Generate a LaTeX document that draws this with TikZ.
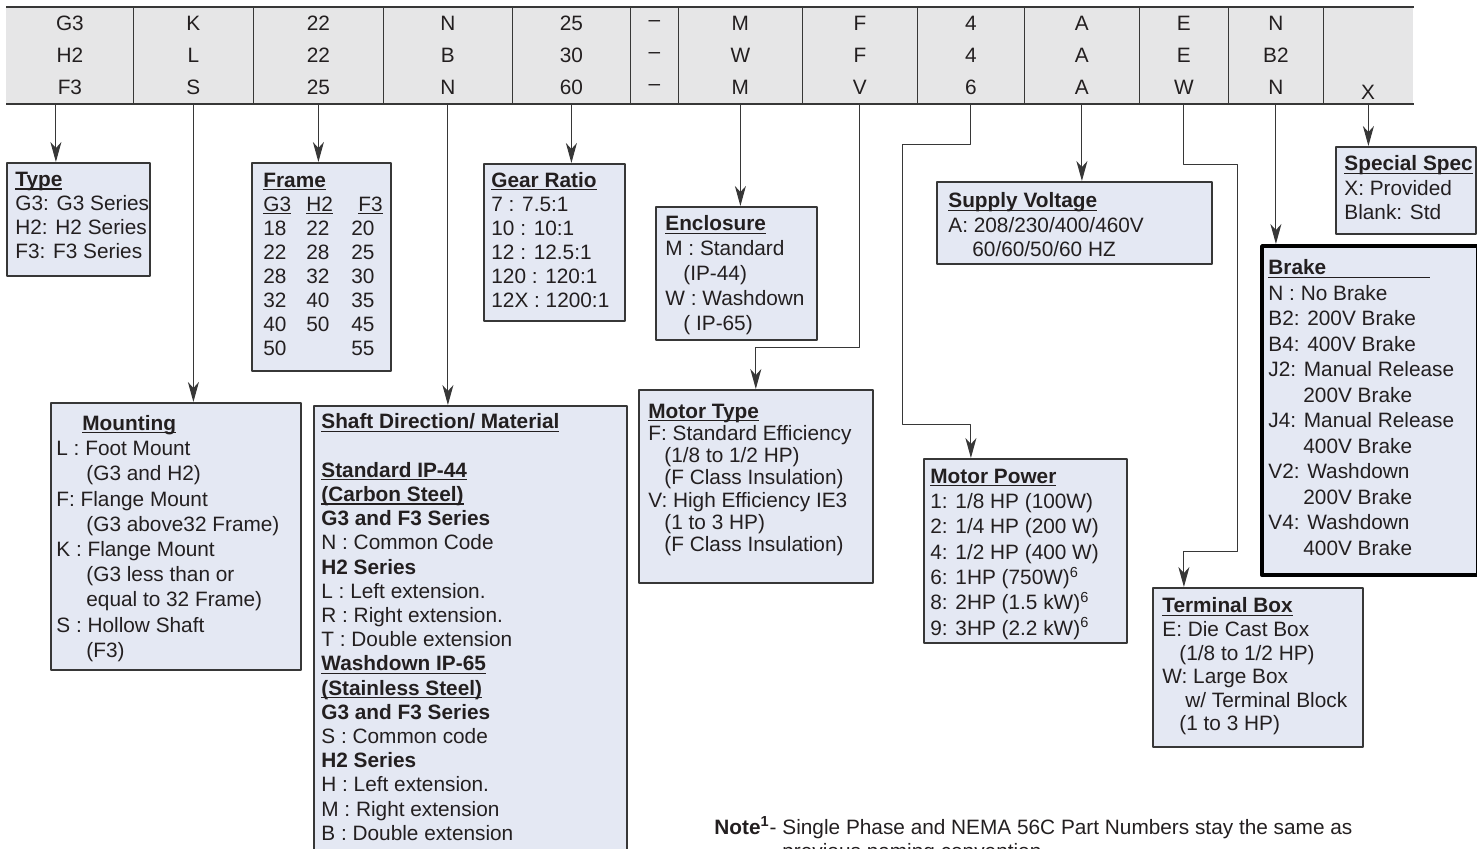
\documentclass[tikz,border=0pt]{standalone}
\usepackage{fontspec}
\setmainfont{Liberation Sans}
\usetikzlibrary{arrows.meta}
\definecolor{barfill}{RGB}{230,230,231}
\definecolor{boxfill}{RGB}{228,232,243}
\definecolor{edge}{RGB}{55,55,55}
\definecolor{ink}{RGB}{35,31,32}
\newcommand\uln[1]{\leavevmode\setbox0=\hbox{#1}\rlap{\rule[-1.5pt]{\wd0}{0.7pt}}\box0}
\begin{document}
\begin{tikzpicture}[x=0.5pt, y=-0.5pt, line join=round, >={Stealth[length=10pt,width=5.5pt,inset=3pt]},
  font=\fontsize{10.4}{16}\selectfont, text=ink,
  cell/.style={fill=barfill, inner sep=0pt, minimum height=48pt, anchor=north west, align=center},
  box/.style 2 args={draw=edge, fill=boxfill, line width=0.8pt, inner sep=0pt, anchor=north west, minimum width=#1*0.5pt, minimum height=#2*0.5pt},
  txt/.style={anchor=north west, inner sep=0pt, align=left, font=\fontsize{10.4}{#1}\selectfont},
  conn/.style={->, draw=edge, line width=0.55pt}]
\useasboundingbox (0,0) rectangle (1477,848);
% part number bar
\foreach \xa/\xb/\lab [count=\i] in {6/133/{G3\\H2\\F3}, 133/253/{K\\L\\S}, 253/383/{22\\22\\25}, 383/512/{N\\B\\N}, 512/630/{25\\30\\60}, 630/678/{--\\--\\--}, 678/802/{M\\W\\M}, 802/917/{F\\F\\V}, 917/1024/{4\\4\\6}, 1024/1139/{A\\A\\A}, 1139/1228/{E\\E\\W}, 1228/1323/{N\\B2\\N}, 1323/1413/{}}
  \node[cell, minimum width=(\xb-\xa)*0.5pt] (c\i) at (\xa,7) {\lab};
\foreach \i in {1,...,12} \draw[edge, line width=0.6pt] (c\i.north east) -- (c\i.south east);
\draw[edge, line width=0.8pt] (c1.north west) -- (c13.north east) (c1.south west) -- (c13.south east);
\node (xspec) at (1368,92) {X};
% boxes
\node[box={143}{113}] (type) at (6,162) {};
\node[box={139}{208}] (frame) at (251,162) {};
\node[box={141}{157}] (gear) at (483,163) {};
\node[box={250}{267}] (mount) at (50,402) {};
\node[box={313}{495}] (shaft) at (313,405) {};
\node[box={161}{133}] (encl) at (655,206) {};
\node[box={234}{193}] (mtype) at (638,389) {};
\node[box={275}{82}] (volt) at (936,181) {};
\node[box={203}{184}] (mpower) at (923,458) {};
\node[box={210}{159}] (term) at (1152,587) {};
\node[box={216}{329}, draw=black, line width=2.2pt] (brake) at (1260,244) {};
\node[box={140}{87}] (spec) at (1335,146) {};
% texts
\node[txt=12pt] (typetxt) at (15,172) {\uln{\textbf{Type}}\\G3: G3 Series\\H2: H2 Series\\F3: F3 Series};
\node[txt=12pt] (frametxt) at (263,170) {\begin{tabular}{@{}p{21.5pt}@{}p{22.5pt}@{}l@{}}
  \multicolumn{3}{@{}l}{\uln{\textbf{Frame}}}\\
  \uln{G3} & \uln{H2} & \hspace*{3.5pt}\uln{F3}\\
  18 & 22 & 20\\ 22 & 28 & 25\\ 28 & 32 & 30\\ 32 & 40 & 35\\ 40 & 50 & 45\\ 50 & & 55
  \end{tabular}};
\node[txt=12pt] (geartxt) at (491,172) {\uln{\textbf{Gear Ratio}}\\7 : 7.5:1\\10 : 10:1\\12 : 12.5:1\\120 : 120:1\\12X : 1200:1};
\node[txt=12.6pt] (mounttxt) at (56,415) {\hspace*{13pt}\uln{\textbf{Mounting}}\\L : Foot Mount\\\hspace*{15pt}(G3 and H2)\\F: Flange Mount\\\hspace*{15pt}(G3 above32 Frame)\\K : Flange Mount\\\hspace*{15pt}(G3 less than or\\\hspace*{15pt}equal to 32 Frame)\\S : Hollow Shaft\\\hspace*{15pt}(F3)};
\node[txt=12.1pt] (shafttxt) at (321,413.5) {\uln{\textbf{Shaft Direction/ Material}}\\\mbox{}\\
  \uln{\textbf{Standard IP-44}}\\\uln{\textbf{(Carbon Steel)}}\\\textbf{G3 and F3 Series}\\N : Common Code\\\textbf{H2 Series}\\
  L : Left extension.\\R : Right extension.\\T : Double extension\\
  \uln{\textbf{Washdown IP-65}}\\\uln{\textbf{(Stainless Steel)}}\\\textbf{G3 and F3 Series}\\S : Common code\\\textbf{H2 Series}\\
  H : Left extension.\\M : Right extension\\B : Double extension};
\node[txt=12.5pt] (encltxt) at (665,215.5) {\uln{\textbf{Enclosure}}\\M : Standard\\\hspace*{9pt}(IP-44)\\W : Washdown\\\hspace*{9pt}( IP-65)};
\node[txt=11.1pt] (mtypetxt) at (648,403.5) {\uln{\textbf{Motor Type}}\\F: Standard Efficiency\\\hspace*{8pt}(1/8 to 1/2 HP)\\\hspace*{8pt}(F Class Insulation)\\V: High Efficiency IE3\\\hspace*{8pt}(1 to 3 HP)\\\hspace*{8pt}(F Class Insulation)};
\node[txt=12.25pt] (volttxt) at (948,192.5) {\uln{\textbf{Supply Voltage}}\\A: 208/230/400/460V\\\hspace*{12pt}60/60/50/60 HZ};
\node[txt=12.65pt] (mpowertxt) at (930,468.5) {\uln{\textbf{Motor Power}}\\1: 1/8 HP (100W)\\2: 1/4 HP (200 W)\\4: 1/2 HP (400 W)\\6: 1HP (750W)\textsuperscript{6}\\8: 2HP (1.5 kW)\textsuperscript{6}\\9: 3HP (2.2 kW)\textsuperscript{6}};
\node[txt=11.8pt] (termtxt) at (1162,597.5) {\uln{\textbf{Terminal Box}}\\E: Die Cast Box\\\hspace*{8.5pt}(1/8 to 1/2 HP)\\W: Large Box\\\hspace*{11.5pt}w/ Terminal Block\\\hspace*{8.5pt}(1 to 3 HP)};
\node[txt=12.75pt] (braketxt) at (1268,259.5) {\uln{\textbf{Brake}\hspace*{52pt}}\\N : No Brake\\B2: 200V Brake\\B4: 400V Brake\\J2: Manual Release\\\hspace*{17.5pt}200V Brake\\J4: Manual Release\\\hspace*{17.5pt}400V Brake\\V2: Washdown\\\hspace*{17.5pt}200V Brake\\V4: Washdown\\\hspace*{17.5pt}400V Brake};
\node[txt=12.15pt] (spectxt) at (1344,155.5) {\uln{\textbf{Special Spec}}\\X: Provided\\Blank: Std};
\node[txt=12pt] (note) at (714,816.5) {\textbf{Note\textsuperscript{1}}- Single Phase and NEMA 56C Part Numbers stay the same as\\\hspace*{34pt}previous naming convention.};
% connectors
\coordinate (t1) at ([xshift=-7pt]c1.south);
\draw[conn] (t1) -- (t1 |- type.north);
\foreach \c/\b in {c2/mount, c3/frame, c4/shaft, c5/gear, c7/encl, c10/volt, c12/brake, c13/spec}
  \draw[conn] (\c.south) -- (\c.south |- \b.north);
\draw[conn] (c8.south) -- ++(0,244) -| (mtype.north);
\draw[conn] (c9.south) |- ++(-68,41) |- ++(68,280) -- (c9.south |- mpower.north);
\draw[conn] (c11.south) |- ++(54,61) |- ++(-54,387) -- (c11.south |- term.north);
\end{tikzpicture}
\end{document}
